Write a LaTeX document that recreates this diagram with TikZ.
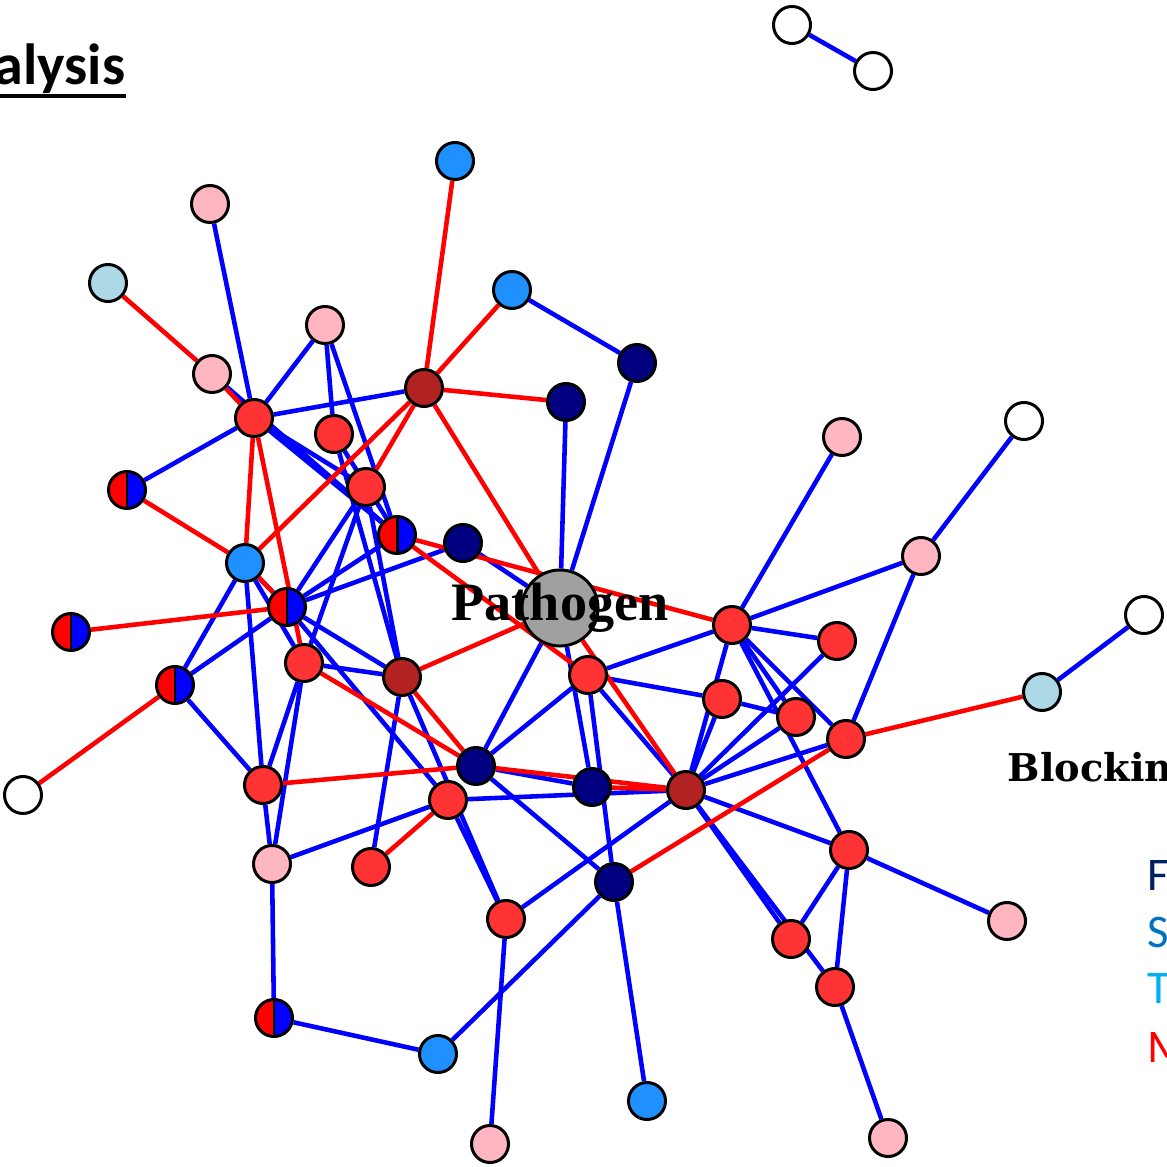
\documentclass[tikz,border=0pt]{standalone}
\usepackage{fontspec}
\usepackage{tikz}
\usetikzlibrary{backgrounds}
\newfontfamily\calfont{Carlito}
\newfontfamily\timesfont{Liberation Serif}
\newfontfamily\slabfont{DejaVu Serif}
\definecolor{nodered}{RGB}{255,51,51}
\definecolor{nodebrown}{RGB}{178,34,34}
\definecolor{nodenavy}{RGB}{0,0,128}
\definecolor{nodedodger}{RGB}{30,144,255}
\definecolor{nodelight}{RGB}{173,216,230}
\definecolor{nodepink}{RGB}{255,182,193}
\definecolor{nodegray}{RGB}{160,160,160}
\definecolor{legF}{RGB}{0,32,96}
\definecolor{legS}{RGB}{0,112,192}
\definecolor{legT}{RGB}{0,176,240}

\begin{document}
\begin{tikzpicture}[
    x=0.01cm, y=-0.01cm,
    vtx/.style={circle, draw=black, line width=0.85pt, minimum size=0.37cm, inner sep=0pt},
    rd/.style={vtx, fill=nodered},
    br/.style={vtx, fill=nodebrown},
    nv/.style={vtx, fill=nodenavy},
    sb/.style={vtx, fill=nodedodger},
    lb/.style={vtx, fill=nodelight},
    pk/.style={vtx, fill=nodepink},
    wt/.style={vtx, fill=white},
    half/.style={vtx, path picture={
        \fill[red] (path picture bounding box.south west) rectangle (path picture bounding box.north);
        \fill[blue] (path picture bounding box.south) rectangle (path picture bounding box.north east);
        \draw[line width=0.85pt] (path picture bounding box.south) -- (path picture bounding box.north);
    }},
    actlink/.style={draw=blue, line width=1.3pt},
    inhlink/.style={draw=red, line width=1.3pt},
]
    \useasboundingbox (0,0) rectangle (1166,1167);
    \clip (0,0) rectangle (1166,1167);

    % Title and side texts
    \node[font=\calfont\bfseries\fontsize{16.5}{18}\selectfont, anchor=base east, inner sep=0pt] (ttl) at (126,85) {alysis};
    \draw[line width=1.2pt] (0,96) -- (ttl.south east |- 0,96);
    \node[font=\slabfont\bfseries\fontsize{10.9}{12}\selectfont, anchor=base west, inner sep=0pt] (blk) at (1007,781) {Blockin};
    \node[font=\calfont\fontsize{13.3}{15}\selectfont, text=legF, anchor=base west, inner sep=0pt] (legf) at (1147,890) {F};
    \node[font=\calfont\fontsize{13.3}{15}\selectfont, text=legS, anchor=base west, inner sep=0pt] (legs) at (1147,947) {S};
    \node[font=\calfont\fontsize{13.3}{15}\selectfont, text=legT, anchor=base west, inner sep=0pt] (legt) at (1147,1003) {T};
    \node[font=\calfont\fontsize{13.3}{15}\selectfont, text=red, anchor=base west, inner sep=0pt] (legm) at (1147,1062) {M};

    % Nodes
    \node[wt] (w1) at (792,25) {};
    \node[wt] (w2) at (873,71) {};
    \node[sb] (sb1) at (455,161) {};
    \node[pk] (pk1) at (210,204) {};
    \node[lb] (lb1) at (108,283) {};
    \node[sb] (sb2) at (512,290) {};
    \node[pk] (pk2) at (325,325) {};
    \node[nv] (nv1) at (637,363) {};
    \node[pk] (pk3) at (212,374) {};
    \node[br] (br1) at (424,388) {};
    \node[nv] (nv2) at (566,402) {};
    \node[rd] (r1) at (254,418) {};
    \node[rd] (r2) at (334,434) {};
    \node[pk] (pk4) at (842,437) {};
    \node[wt] (w3) at (1024,421) {};
    \node[half] (hb1) at (127,490) {};
    \node[rd] (r3) at (366,487) {};
    \node[half] (hb2) at (397,535) {};
    \node[nv] (nv3) at (463,543) {};
    \node[sb] (sb3) at (245,563) {};
    \node[pk] (pk5) at (921,556) {};
    \node[vtx, fill=nodegray, minimum size=0.76cm] (pthg) at (560,608) {};
    \node[half] (hb3) at (287,607) {};
    \node[half] (hb4) at (71,632) {};
    \node[wt] (w4) at (1144,615) {};
    \node[rd] (r4) at (732,625) {};
    \node[rd] (r5) at (837,641) {};
    \node[rd] (r6) at (304,663) {};
    \node[br] (br2) at (402,677) {};
    \node[rd] (r7) at (588,675) {};
    \node[half] (hb5) at (175,685) {};
    \node[lb] (lb2) at (1042,692) {};
    \node[rd] (r8) at (722,699) {};
    \node[rd] (r9) at (796,717) {};
    \node[rd] (r10) at (846,739) {};
    \node[nv] (nv4) at (476,766) {};
    \node[rd] (r11) at (263,785) {};
    \node[nv] (nv5) at (592,787) {};
    \node[br] (br3) at (686,790) {};
    \node[wt] (w5) at (23,795) {};
    \node[rd] (r12) at (448,800) {};
    \node[rd] (r13) at (849,850) {};
    \node[pk] (pk6) at (272,864) {};
    \node[rd] (r14) at (371,867) {};
    \node[nv] (nv6) at (614,882) {};
    \node[rd] (r15) at (506,919) {};
    \node[pk] (pk7) at (1007,921) {};
    \node[rd] (r16) at (791,939) {};
    \node[rd] (r17) at (835,987) {};
    \node[half] (hb6) at (274,1018) {};
    \node[sb] (sb4) at (438,1054) {};
    \node[sb] (sb5) at (647,1101) {};
    \node[pk] (pk8) at (490,1144) {};
    \node[pk] (pk9) at (888,1138) {};

    \node[font=\timesfont\bfseries\fontsize{15.4}{17}\selectfont, anchor=base, inner sep=0pt] (pthglbl) at (560,620) {Pathogen};

    % Links
    \begin{scope}[on background layer]
        \foreach \a/\b in {w1/w2, pk1/r1, pk3/hb2, r1/r3, r1/hb2, r1/br1, r1/pk2, r1/hb1,
            pk2/r2, pk2/hb2, r2/hb2, r2/br2, nv2/pthg, nv1/sb2, nv1/pthg, nv3/hb3, nv3/pthg,
            hb2/hb3, r3/hb3, r3/r6, r3/br2, sb3/hb5, sb3/r11, sb3/hb3, sb3/r6,
            hb3/hb5, hb3/br2, hb3/r12, r6/br2, r6/r11, r6/pk6, br2/r14, br2/r15,
            nv4/pthg, nv4/r7, nv4/nv5, nv4/nv6, r12/pk6, r12/br3, r12/r15,
            pthg/nv5, r7/nv6, nv6/sb5, nv6/sb4, r15/br3, r15/pk8, sb4/hb6, hb6/pk6,
            r11/pk6, r11/hb5, r7/r4, r7/r8, r8/r9, r7/br3,
            r4/pk4, r4/pk5, r4/r5, r4/br3, r8/br3, r4/r10, r4/r13, r4/r9,
            r5/br3, r9/br3, r10/br3, r10/pk5, pk5/w3, lb2/w4,
            br3/r13, br3/r16, br3/r17, r13/pk7, r13/r16, r13/r17, r17/pk9}
            \draw[actlink] (\a) -- (\b);
        \foreach \a/\b in {sb1/br1, lb1/pk3, pk3/r1, r1/sb3, r1/r6, sb2/br1, br1/r3, br1/sb3,
            br1/nv2, br1/pthg, pthg/br3, hb2/r4, hb2/r7, br2/pthg, hb1/sb3, sb3/hb3,
            hb4/hb3, r6/nv4, br2/nv4, nv4/br3, nv4/r11, r12/r14, nv5/br3, nv6/r10,
            r10/lb2, hb5/w5}
            \draw[inhlink] (\a) -- (\b);
    \end{scope}
\end{tikzpicture}
\end{document}
